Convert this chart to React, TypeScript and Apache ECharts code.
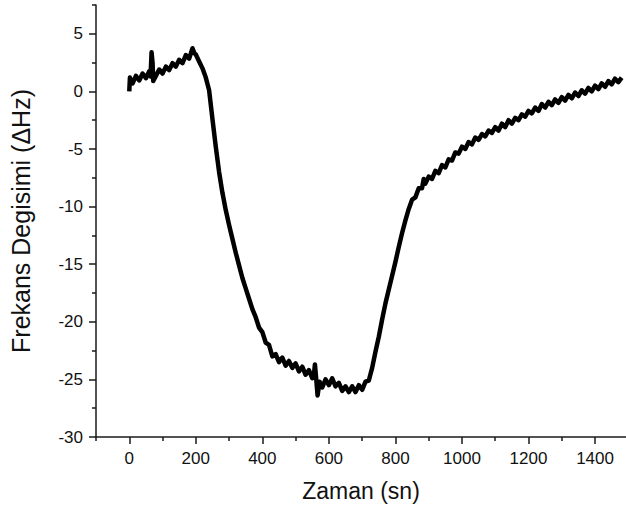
import React, { useEffect, useRef } from "react";
import * as echarts from "echarts";

const xTickValues = [0, 200, 400, 600, 800, 1000, 1200, 1400];
const xMinorValues = [-100, 100, 300, 500, 700, 900, 1100, 1300];
const yTickValues = [-30, -25, -20, -15, -10, -5, 0, 5];
const yMinorValues = [-27.5, -22.5, -17.5, -12.5, -7.5, -2.5, 2.5, 7.5];

const timeSec = [
  0, 2, 10, 20, 30, 40, 50, 60, 64, 67, 70, 72, 80, 90, 100, 110, 120, 130, 140, 150, 160, 170, 180, 190, 196, 200,
  210, 220, 230, 240, 250, 260, 270, 280, 290, 300, 310, 320, 330, 340, 350, 360, 370, 380, 390, 400,
  410, 420, 430, 440, 450, 460, 470, 480, 490, 500, 510, 520, 530, 540, 550, 555, 558, 562, 566, 572,
  580, 590, 600, 610, 620, 630, 640, 650, 660, 670, 680, 690, 700, 710, 720, 730, 740, 750, 760, 770,
  780, 790, 800, 810, 820, 830, 840, 850, 860, 870, 880, 885, 890, 900, 910, 920, 930, 940, 950, 960,
  970, 980, 990, 1000, 1010, 1020, 1030, 1040, 1050, 1060, 1070, 1080, 1090, 1100, 1110, 1120, 1130,
  1140, 1150, 1160, 1170, 1180, 1190, 1200, 1210, 1220, 1230, 1240, 1250, 1260, 1270, 1280, 1290, 1300,
  1310, 1320, 1330, 1340, 1350, 1360, 1370, 1380, 1390, 1400, 1410, 1420, 1430, 1440, 1450, 1460, 1470, 1480,
];

const freqDeltaHz = [
  0.0, 1.2, 0.7, 1.35, 0.95, 1.55, 1.15, 1.75, 1.3, 3.4, 2.5, 0.9, 1.35, 1.9, 1.55, 2.15, 1.85, 2.45, 2.15, 2.75, 2.45, 3.15, 2.85, 3.75, 3.3, 3.2,
  2.6, 2.0, 1.2, 0.1, -2.4, -4.8, -7.0, -8.8, -10.3, -11.6, -12.8, -14.0, -15.1, -16.2, -17.1, -18.0, -18.9, -19.6, -20.5, -20.9,
  -21.8, -22.0, -23.0, -22.8, -23.5, -23.1, -23.8, -23.4, -24.0, -23.6, -24.3, -23.9, -24.6, -24.2, -24.9, -24.6, -23.7, -25.0, -26.4, -25.2,
  -25.7, -25.0, -25.5, -24.9, -25.6, -25.3, -26.0, -25.6, -26.1, -25.6, -26.1, -25.5, -25.9, -25.2, -25.1, -24.0, -22.6, -21.3, -19.8, -18.4,
  -17.2, -16.0, -14.8, -13.5, -12.3, -11.2, -10.2, -9.4, -9.2, -8.4, -8.4, -7.6, -8.0, -7.4, -7.6, -6.9, -7.1, -6.4, -6.6, -5.9,
  -6.0, -5.3, -5.4, -4.8, -5.0, -4.4, -4.6, -4.0, -4.2, -3.7, -3.9, -3.4, -3.6, -3.1, -3.4, -2.8, -3.1,
  -2.5, -2.8, -2.3, -2.5, -2.0, -2.2, -1.7, -1.9, -1.4, -1.7, -1.1, -1.4, -0.9, -1.2, -0.7, -1.0, -0.5,
  -0.8, -0.3, -0.6, -0.1, -0.4, 0.1, -0.2, 0.3, 0.0, 0.5, 0.2, 0.7, 0.4, 0.9, 0.6, 1.1, 0.8, 1.2,
];

const xTitle = "Zaman (sn)";
const yTitle = "Frekans Degisimi (ΔHz)";

const FONT = "'Liberation Sans', Arial, sans-serif";
const AXIS_COLOR = "#1a1a1a";

export default function App() {
  const ref = useRef<HTMLDivElement>(null);

  useEffect(() => {
    if (!ref.current) return;
    const chart = echarts.init(ref.current, null, { renderer: "svg" });
    const data = timeSec.map((t, i) => [t, freqDeltaHz[i]]);
    const xMin = -100;
    const xMax = 1493;
    const plain = (v: number) => String(v);
    chart.setOption({
      animation: false,
      backgroundColor: "#ffffff",
      textStyle: { fontFamily: FONT },
      grid: { left: 95, right: 0, top: 5, bottom: 75, containLabel: false },
      xAxis: [
        {
          type: "value",
          min: xMin,
          max: xMax,
          position: "bottom",
          name: xTitle,
          nameLocation: "middle",
          nameGap: 42,
          nameTextStyle: { fontSize: 23, color: "#111", fontFamily: FONT },
          axisLine: { show: true, onZero: false, lineStyle: { color: AXIS_COLOR, width: 1.5 } },
          axisTick: { show: true, customValues: xTickValues, length: 7, lineStyle: { color: AXIS_COLOR, width: 1.5 } },
          axisLabel: { customValues: xTickValues, formatter: plain, fontSize: 17, color: "#111", margin: 13, fontFamily: FONT },
          splitLine: { show: false },
        },
        {
          type: "value",
          min: xMin,
          max: xMax,
          position: "bottom",
          axisLine: { show: false, onZero: false },
          axisTick: { show: true, customValues: xMinorValues, length: 4, lineStyle: { color: AXIS_COLOR, width: 1.5 } },
          axisLabel: { show: false },
          splitLine: { show: false },
        },
      ],
      yAxis: [
        {
          type: "value",
          min: -30,
          max: 7.5,
          position: "left",
          name: yTitle,
          nameLocation: "middle",
          nameGap: 63,
          nameRotate: 90,
          nameTextStyle: { fontSize: 25, color: "#111", fontFamily: FONT },
          axisLine: { show: true, onZero: false, lineStyle: { color: AXIS_COLOR, width: 1.5 } },
          axisTick: { show: true, customValues: yTickValues, length: 7, lineStyle: { color: AXIS_COLOR, width: 1.5 } },
          axisLabel: { customValues: yTickValues, formatter: plain, fontSize: 17, color: "#111", margin: 13, fontFamily: FONT },
          splitLine: { show: false },
        },
        {
          type: "value",
          min: -30,
          max: 7.5,
          position: "left",
          axisLine: { show: false, onZero: false },
          axisTick: { show: true, customValues: yMinorValues, length: 4, lineStyle: { color: AXIS_COLOR, width: 1.5 } },
          axisLabel: { show: false },
          splitLine: { show: false },
        },
      ],
      series: [
        {
          type: "line",
          data,
          xAxisIndex: 0,
          yAxisIndex: 0,
          showSymbol: false,
          symbol: "none",
          lineStyle: { color: "#000000", width: 4.5, join: "round" },
          clip: true,
        },
      ],
    });
    return () => chart.dispose();
  }, []);

  return (
    <div
      ref={ref}
      style={{ position: "fixed", left: 0, top: 0, width: 626, height: 512, background: "#fff" }}
    />
  );
}
